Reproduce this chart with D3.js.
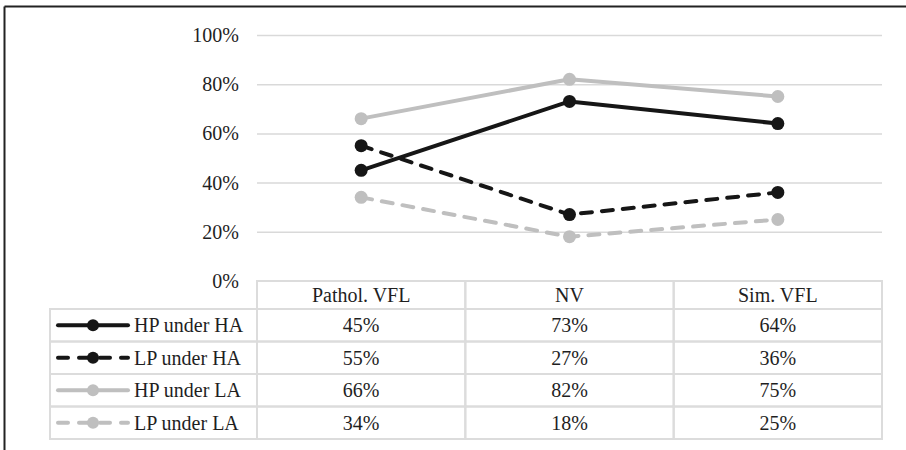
<!DOCTYPE html>
<html>
<head>
<meta charset="utf-8">
<script src="https://cdn.jsdelivr.net/npm/d3@7"></script>
<style>
  html, body { margin: 0; padding: 0; background: #fff; }
  svg { display: block; }
  svg text { font-family: "Liberation Serif", Tinos, "Times New Roman", "Nimbus Roman", "DejaVu Serif", serif !important; font-size: 20px; fill: #1f1f1f; }
</style>
</head>
<body>
<svg id="chart" width="906" height="450"></svg>
<script>
const categories = ["Pathol. VFL", "NV", "Sim. VFL"];
const seriesNames = ["HP under HA", "LP under HA", "HP under LA", "LP under LA"];
const hpUnderHA = [0.45, 0.73, 0.64];
const lpUnderHA = [0.55, 0.27, 0.36];
const hpUnderLA = [0.66, 0.82, 0.75];
const lpUnderLA = [0.34, 0.18, 0.25];
const yTicks = [0, 0.2, 0.4, 0.6, 0.8, 1.0];

const seriesValues = [hpUnderHA, lpUnderHA, hpUnderLA, lpUnderLA];
const seriesColor = ["#161616", "#161616", "#bfbfbf", "#bfbfbf"];
const seriesDash = [null, "11,10", null, "11,10"];

const FONT = '"Liberation Serif", Tinos, "Times New Roman", "Nimbus Roman", "DejaVu Serif", serif';
const svg = d3.select("#chart").attr("font-family", FONT);
const W = 906, H = 450;

// outer frame (top & left visible)
svg.append("line").attr("x1", 4.5).attr("x2", W).attr("y1", 6.5).attr("y2", 6.5)
  .attr("stroke", "#222").attr("stroke-width", 2);
svg.append("line").attr("x1", 4.5).attr("x2", 4.5).attr("y1", 6.5).attr("y2", H)
  .attr("stroke", "#222").attr("stroke-width", 2);

const plotL = 257, plotR = 882, plotT = 35, plotB = 281;
const x = d3.scaleBand().domain(categories).range([plotL, plotR]).padding(0);
const xc = c => x(c) + x.bandwidth() / 2;
const y = d3.scaleLinear().domain([0, 1]).range([plotB, plotT]);

// gridlines
const yAxis = d3.axisLeft(y).tickValues(yTicks).tickFormat(d3.format(".0%"))
  .tickSize(-(plotR - plotL)).tickPadding(18);
const gy = svg.append("g").attr("transform", `translate(${plotL},0)`).call(yAxis)
  .attr("font-family", FONT).attr("font-size", 20);
gy.select(".domain").remove();
gy.selectAll(".tick line").attr("stroke", "#d9d9d9").attr("stroke-width", 1.5)
  .filter(d => d === 0).remove();
gy.selectAll(".tick text").attr("fill", "#1f1f1f").attr("dy", "0.32em");

// table
const legL = 50, headT = plotB, headB = 309, rowH = 32.5;
const tbl = svg.append("g").attr("font-family", FONT).attr("font-size", 20);
const gridC = "#dcdcdc";
categories.forEach(c => {
  tbl.append("rect").attr("x", x(c)).attr("y", headT).attr("width", x.bandwidth())
    .attr("height", headB - headT).attr("fill", "none").attr("stroke", gridC).attr("stroke-width", 2);
  tbl.append("text").attr("x", xc(c)).attr("y", (headT + headB) / 2 + 7)
    .attr("text-anchor", "middle").text(c);
});
seriesNames.forEach((name, i) => {
  const top = headB + i * rowH;
  tbl.append("rect").attr("x", legL).attr("y", top).attr("width", plotL - legL)
    .attr("height", rowH).attr("fill", "none").attr("stroke", gridC).attr("stroke-width", 2);
  categories.forEach((c, j) => {
    tbl.append("rect").attr("x", x(c)).attr("y", top).attr("width", x.bandwidth())
      .attr("height", rowH).attr("fill", "none").attr("stroke", gridC).attr("stroke-width", 2);
    tbl.append("text").attr("x", xc(c)).attr("y", top + rowH / 2 + 7)
      .attr("text-anchor", "middle").text(d3.format(".0%")(seriesValues[i][j]));
  });
  const cy = top + rowH / 2;
  tbl.append("line").attr("x1", 58).attr("x2", 128).attr("y1", cy).attr("y2", cy)
    .attr("stroke", seriesColor[i]).attr("stroke-width", 4)
    .attr("stroke-linecap", "round")
    .attr("stroke-dasharray", seriesDash[i] ? "10,11" : null);
  tbl.append("circle").attr("cx", 93).attr("cy", cy).attr("r", 6).attr("fill", seriesColor[i]);
  tbl.append("text").attr("x", 134).attr("y", cy + 7).text(name);
});

// series lines (gray first so black overlays)
const order = [2, 3, 0, 1];
const line = d3.line().x((d, j) => xc(categories[j])).y(d => y(d));
order.forEach(i => {
  const g = svg.append("g");
  g.append("path").datum(seriesValues[i]).attr("d", line).attr("fill", "none")
    .attr("stroke", seriesColor[i]).attr("stroke-width", 4)
    .attr("stroke-linecap", "round").attr("stroke-linejoin", "round")
    .attr("stroke-dasharray", seriesDash[i]);
  g.selectAll("circle").data(seriesValues[i]).join("circle")
    .attr("cx", (d, j) => xc(categories[j])).attr("cy", d => y(d)).attr("r", 6.5)
    .attr("fill", seriesColor[i]);
});
</script>
</body>
</html>
